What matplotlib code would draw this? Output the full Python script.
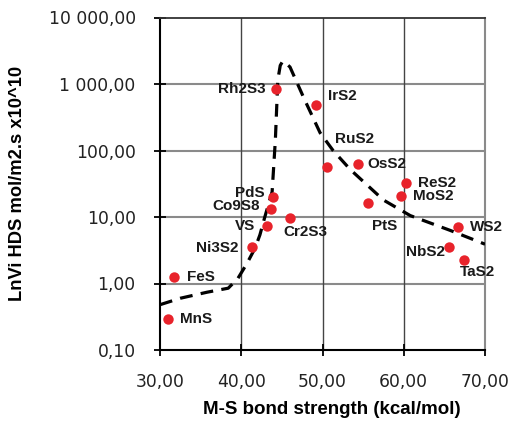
import matplotlib
matplotlib.use("Agg")
import matplotlib.pyplot as plt
from matplotlib.ticker import FixedLocator, FuncFormatter

# ---- data ----
names = ["Rh2S3", "IrS2", "RuS2", "PdS", "Co9S8", "VS", "Cr2S3", "Ni3S2",
         "FeS", "MnS", "OsS2", "ReS2", "MoS2", "PtS", "WS2", "NbS2", "TaS2"]
bond = [44.3, 49.2, 50.5, 43.9, 43.7, 43.2, 46.0, 41.3,
        31.7, 31.0, 54.4, 60.3, 59.7, 55.6, 66.7, 65.6, 67.4]
hds = [850, 490, 57, 20, 13, 7.2, 9.8, 3.5,
       1.25, 0.29, 63, 33, 21, 16, 7.1, 3.5, 2.25]

curve_x = [30, 32.5, 35.8, 38.4, 39.6, 40.7, 41.7, 42.3, 42.9, 43.8, 44.2,
           44.5, 44.8, 45.1, 45.5, 46.0, 47.8, 49.7, 51.3, 53.4, 57.5, 60.8, 65.7, 70]
curve_y = [0.48, 0.60, 0.74, 0.85, 1.2, 2.0, 3.4, 5.4, 10, 24, 145,
           1150, 1900, 2200, 2050, 1800, 580, 185, 100, 52, 18, 10.5, 6.3, 3.9]

x_ticks = [30, 40, 50, 60, 70]
y_ticks = [0.1, 1, 10, 100, 1000, 10000]

# label offsets in pixels (dx, dy) and alignment
offsets = {
    "Rh2S3": (-11, 0, "right"), "IrS2": (12, 9, "left"), "RuS2": (8, 28, "left"),
    "PdS": (-8, 4, "right"), "Co9S8": (-11, 3, "right"), "VS": (-12, 0, "right"),
    "Cr2S3": (-7, -14, "left"), "Ni3S2": (-13, -1, "right"), "FeS": (13, 0, "left"),
    "MnS": (12, 0, "left"), "OsS2": (9, 0, "left"), "ReS2": (12, 0, "left"),
    "MoS2": (12, 0, "left"), "PtS": (17, -23, "center"), "WS2": (12, 0, "left"),
    "NbS2": (-4, -5, "right"), "TaS2": (-4, -12, "left"),
}

fig = plt.figure(figsize=(5.25, 4.24), dpi=100)
ax = fig.add_axes([160/525, 1-350/424, 325/525, (350-17.5)/424])

ax.set_xlim(30, 70)
ax.set_yscale("log")
ax.set_ylim(0.1, 10000)

# grid
for yv in y_ticks[1:-1]:
    ax.axhline(yv, color="#8a8a8a", lw=1.5, zorder=1)
for xv in x_ticks[1:-1]:
    ax.axvline(xv, color="#444444", lw=1.0, zorder=1)

ax.plot(curve_x, curve_y, color="black", lw=2.3, dashes=(4, 2.6),
        solid_capstyle="butt", dash_capstyle="butt", zorder=3)
ax.plot(bond, hds, "o", color="#e8232b", ms=7.5, mec="none", zorder=4)

for n, xv, yv in zip(names, bond, hds):
    dx, dy, ha = offsets[n]
    ax.annotate(n, (xv, yv), xytext=(dx, dy), textcoords="offset pixels",
                ha=ha, va="center", fontsize=11, fontweight="bold",
                family="Liberation Sans", color="#1a1a1a", zorder=5)

ax.xaxis.set_major_locator(FixedLocator(x_ticks))
ax.yaxis.set_major_locator(FixedLocator(y_ticks))
ax.yaxis.set_minor_locator(FixedLocator([]))

def fmt(v, pos=None):
    s = f"{v:,.2f}"
    return s.replace(",", " ").replace(".", ",")

ax.xaxis.set_major_formatter(FuncFormatter(fmt))
ax.yaxis.set_major_formatter(FuncFormatter(fmt))

ax.tick_params(axis="both", direction="inout", length=9, width=1.3,
               labelsize=12.3, colors="black", labelcolor="#222222")
ax.tick_params(axis="y", pad=13)
ax.tick_params(axis="x", pad=12)
for lab in ax.get_xticklabels() + ax.get_yticklabels():
    lab.set_family("DejaVu Sans")

ax.spines["left"].set_linewidth(1.5)
ax.spines["bottom"].set_linewidth(1.5)
ax.spines["top"].set_color("#333333")
ax.spines["top"].set_linewidth(1.3)
ax.spines["right"].set_color("#8a8a8a")
ax.spines["right"].set_linewidth(1.5)

ax.set_xlabel("M-S bond strength (kcal/mol)", fontsize=13.5, fontweight="bold",
              family="Liberation Sans")
ax.set_ylabel("LnVi HDS mol/m2.s x10^10", fontsize=13.2, fontweight="bold",
              family="Liberation Sans")
ax.xaxis.set_label_coords(0.53, -0.178)
ax.yaxis.set_label_coords(-0.44, 0.5)
ax.xaxis.label.set_va("center")
ax.yaxis.label.set_va("center")

fig.savefig("out.png", dpi=100)
